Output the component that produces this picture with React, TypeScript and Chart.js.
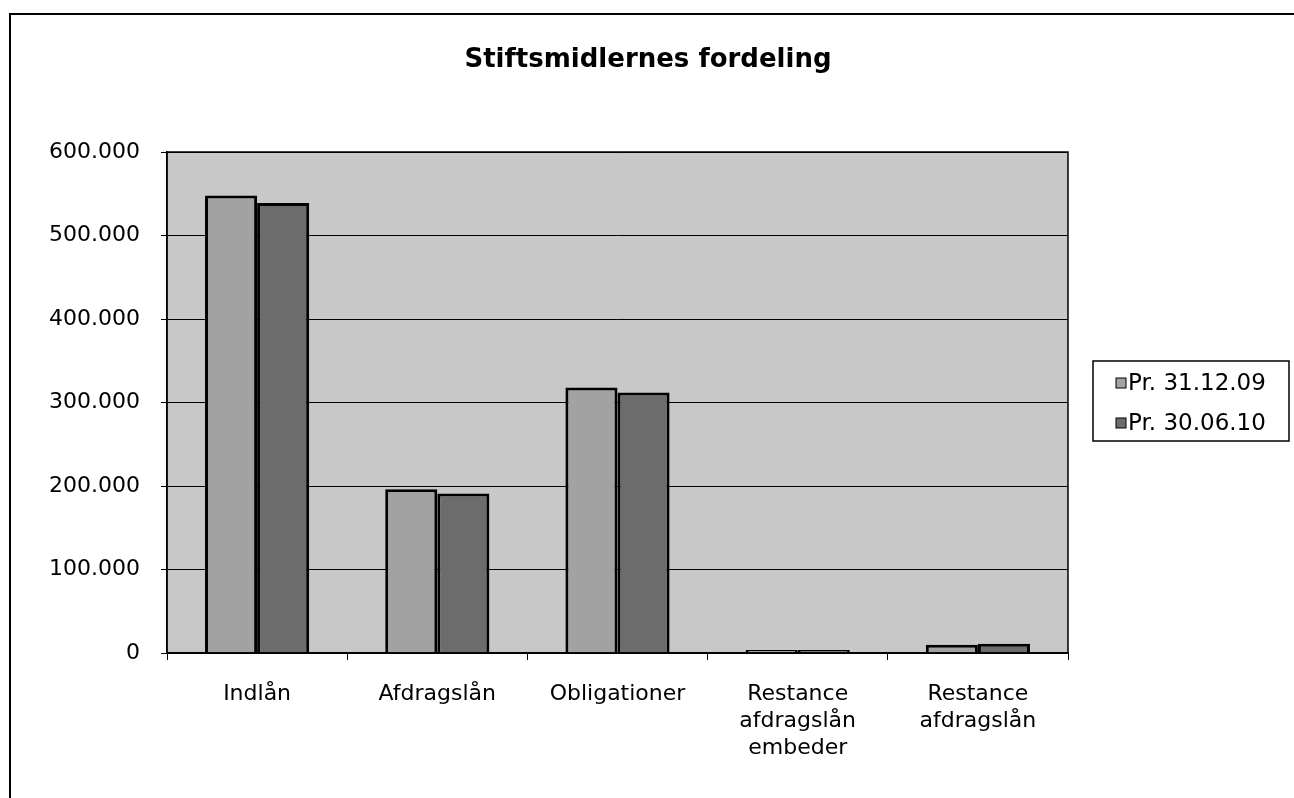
import React, { useEffect, useRef } from "react";
import { Chart, registerables } from "chart.js";

Chart.register(...registerables);

const TITLE = "Stiftsmidlernes fordeling";
const categories: string[][] = [
  ["Indlån"],
  ["Afdragslån"],
  ["Obligationer"],
  ["Restance", "afdragslån", "embeder"],
  ["Restance", "afdragslån"],
];
const seriesNames = ["Pr. 31.12.09", "Pr. 30.06.10"];
const values2009 = [548000, 196000, 318000, 3500, 10000];
const values2010 = [539000, 191000, 312000, 3500, 11000];
const yMax = 600000;
const yStep = 100000;

const FONT = "'DejaVu Sans', 'Liberation Sans', Arial, sans-serif";
const PLOT_BG = "#c8c8c8";
const COLORS = ["#a2a2a2", "#6c6c6c"];

const fmt = (v: number) =>
  String(Math.round(v)).replace(/\B(?=(\d{3})+(?!\d))/g, ".");

const decorPlugin = {
  id: "decor",
  beforeDraw(chart: any) {
    const { ctx, chartArea: a } = chart;
    ctx.save();
    ctx.fillStyle = "#ffffff";
    ctx.fillRect(0, 0, chart.width, chart.height);
    ctx.fillStyle = PLOT_BG;
    ctx.fillRect(a.left, a.top, a.right - a.left, a.bottom - a.top);
    ctx.restore();
  },
  afterDraw(chart: any) {
    const { ctx, chartArea: a } = chart;
    ctx.save();
    // outer border
    ctx.strokeStyle = "#000";
    ctx.lineWidth = 2;
    ctx.strokeRect(10, 14, chart.width + 20, chart.height + 20);
    // plot border
    ctx.lineWidth = 1.5;
    ctx.strokeRect(a.left, a.top, a.right - a.left, a.bottom - a.top);
    // title
    ctx.fillStyle = "#000";
    ctx.font = `bold 26px ${FONT}`;
    ctx.textAlign = "center";
    ctx.textBaseline = "middle";
    ctx.fillText(TITLE, 648, 60);
    // legend
    const lx = 1093, ly = 361, lw = 196, lh = 80;
    ctx.lineWidth = 1.5;
    ctx.strokeRect(lx, ly, lw, lh);
    ctx.font = `23px ${FONT}`;
    ctx.textAlign = "left";
    const rows = [383, 423];
    seriesNames.forEach((name, i) => {
      const y = rows[i];
      ctx.fillStyle = COLORS[i];
      ctx.fillRect(1116, y - 5, 10, 10);
      ctx.lineWidth = 1;
      ctx.strokeStyle = "#000";
      ctx.strokeRect(1116, y - 5, 10, 10);
      ctx.fillStyle = "#000";
      ctx.fillText(name, 1128, y + 1);
    });
    ctx.restore();
  },
};

export default function App() {
  const ref = useRef<HTMLCanvasElement | null>(null);
  useEffect(() => {
    if (!ref.current) return;
    const chart = new Chart(ref.current, {
      type: "bar",
      data: {
        labels: categories,
        datasets: [
          {
            label: seriesNames[0],
            data: values2009,
            backgroundColor: COLORS[0],
            borderColor: "#000",
            borderWidth: 3,
            categoryPercentage: 0.578,
            barPercentage: 1,
          },
          {
            label: seriesNames[1],
            data: values2010,
            backgroundColor: COLORS[1],
            borderColor: "#000",
            borderWidth: 3,
            categoryPercentage: 0.578,
            barPercentage: 1,
          },
        ],
      },
      options: {
        responsive: false,
        animation: false,
        layout: { padding: { top: 152, right: 226, left: 0, bottom: 0 } },
        plugins: {
          legend: { display: false },
          title: { display: false },
          tooltip: { enabled: false },
        },
        scales: {
          x: {
            afterFit: (s: any) => {
              s.height = 145;
            },
            grid: {
              display: true,
              drawOnChartArea: false,
              drawTicks: true,
              tickLength: 7,
              color: "#000",
              offset: true,
            },
            border: { color: "#000", width: 1.5 },
            ticks: {
              color: "#000",
              font: { family: FONT, size: 22, lineHeight: 1.23 },
              padding: 21,
              maxRotation: 0,
              autoSkip: false,
            },
          },
          y: {
            min: 0,
            max: yMax,
            afterFit: (s: any) => {
              s.width = 167;
            },
            grid: {
              color: "#000",
              lineWidth: 1,
              drawTicks: true,
              tickLength: 6,
            },
            border: { color: "#000", width: 1.5 },
            ticks: {
              stepSize: yStep,
              color: "#000",
              font: { family: FONT, size: 22 },
              padding: 21,
              callback: (v: any) => fmt(Number(v)),
            },
          },
        },
      },
      plugins: [decorPlugin],
    });
    return () => chart.destroy();
  }, []);
  return (
    <div style={{ position: "fixed", left: 0, top: 0, width: 1294, height: 798 }}>
      <canvas ref={ref} width={1294} height={798} style={{ width: 1294, height: 798 }} />
    </div>
  );
}
